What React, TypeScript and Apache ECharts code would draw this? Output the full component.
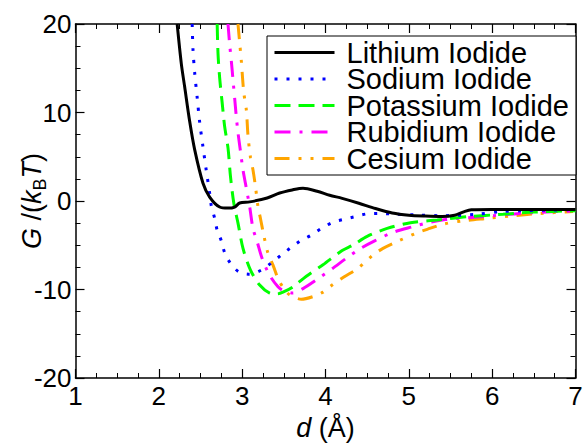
import React, { useEffect, useRef } from "react";
import * as echarts from "echarts";

const FONT = "'Liberation Sans', Arial, Helvetica, sans-serif";

const seriesNames = ["Lithium Iodide", "Sodium Iodide", "Potassium Iodide", "Rubidium Iodide", "Cesium Iodide"];
const seriesColors = ["#000000", "#0000ff", "#00ff00", "#ff00ff", "#ffa500"];

const liD = [2.22, 2.27, 2.31, 2.37, 2.43, 2.53, 2.61, 2.73, 2.83, 2.91, 2.97, 3.09, 3.3, 3.45, 3.6, 3.73, 3.9, 4.05, 4.2, 4.4, 4.6, 4.8, 5.0, 5.2, 5.4, 5.55, 5.65, 5.75, 6.0, 6.5, 7.0];
const liG = [20, 15.5, 12.9, 9.0, 5.8, 2.0, 0.45, -0.68, -0.8, -0.68, -0.23, -0.1, 0.34, 0.9, 1.25, 1.45, 1.1, 0.65, 0.3, -0.25, -0.85, -1.35, -1.6, -1.7, -1.75, -1.6, -1.25, -0.98, -0.95, -0.95, -0.95];

const naD = [2.4, 2.41, 2.43, 2.46, 2.49, 2.53, 2.57, 2.61, 2.63, 2.67, 2.7, 2.75, 2.79, 2.86, 2.96, 3.09, 3.23, 3.35, 3.47, 3.58, 3.7, 3.83, 3.95, 4.09, 4.22, 4.35, 4.5, 4.65, 4.8, 5.09, 5.37, 5.82, 6.1, 6.38, 6.82, 7.0];
const naG = [20, 17.1, 14.5, 11.7, 8.9, 6.1, 3.4, 0.87, -0.57, -1.96, -3.3, -4.5, -5.85, -7.05, -8.0, -8.27, -7.8, -7.0, -6.1, -5.3, -4.5, -3.85, -3.1, -2.4, -2.07, -1.78, -1.45, -1.4, -1.47, -1.58, -1.66, -1.5, -1.2, -1.1, -1.0, -0.95];

const kD = [2.7, 2.71, 2.73, 2.76, 2.79, 2.83, 2.86, 2.9, 2.95, 3.01, 3.1, 3.21, 3.33, 3.42, 3.49, 3.61, 3.77, 3.97, 4.2, 4.33, 4.5, 4.74, 5.02, 5.34, 5.7, 6.13, 6.5, 7.0];
const kG = [20, 16.7, 13.9, 11.1, 8.4, 6.0, 2.75, -0.26, -2.5, -5.36, -7.8, -9.5, -10.4, -10.5, -10.3, -9.7, -8.5, -7.2, -5.6, -4.98, -4.0, -3.1, -2.45, -2.15, -1.78, -1.5, -1.25, -1.1];

const rbD = [2.83, 2.85, 2.87, 2.89, 2.91, 2.93, 2.95, 2.98, 3.01, 3.05, 3.09, 3.13, 3.18, 3.24, 3.33, 3.43, 3.49, 3.61, 3.73, 3.9, 4.08, 4.26, 4.42, 4.59, 4.81, 5.05, 5.24, 5.44, 5.86, 6.33, 6.77, 7.0];
const rbG = [20, 17.7, 15.8, 13.7, 11.6, 9.5, 7.7, 5.6, 3.5, 1.44, -0.64, -3.1, -4.6, -6.5, -8.4, -9.7, -10.1, -10.4, -9.9, -8.85, -7.65, -6.4, -5.36, -4.5, -3.55, -2.9, -2.43, -2.1, -1.78, -1.4, -1.2, -1.1];

const csD = [2.95, 2.97, 2.99, 3.0, 3.02, 3.05, 3.07, 3.1, 3.13, 3.16, 3.19, 3.22, 3.26, 3.31, 3.37, 3.43, 3.5, 3.57, 3.71, 3.85, 3.97, 4.08, 4.22, 4.39, 4.57, 4.69, 4.88, 5.09, 5.22, 5.42, 5.66, 5.94, 6.26, 6.58, 6.97];
const csG = [20, 17.9, 15.8, 14.5, 12.2, 10.3, 7.4, 4.9, 3.5, 1.6, -0.64, -2.0, -3.9, -5.9, -7.25, -8.75, -9.9, -10.6, -11.1, -10.8, -10.3, -9.5, -8.6, -7.6, -6.1, -5.36, -4.5, -3.63, -3.2, -2.6, -2.23, -1.96, -1.66, -1.4, -1.2];

const xTicks = { min: 1, max: 7, interval: 1 };
const yTicks = { min: -20, max: 20, interval: 10 };

const seriesD = [liD, naD, kD, rbD, csD];
const seriesG = [liG, naG, kG, rbG, csG];
const dashes: any[] = ["solid", [3, 9], [16, 8], [16, 9, 3, 9], [15, 9, 3, 9, 3, 9]];

export default function App() {
  const ref = useRef<HTMLDivElement>(null);
  useEffect(() => {
    if (!ref.current) return;
    const chart = echarts.init(ref.current, null, { renderer: "svg" });
    const tickCommon = (showLabel: boolean) => ({
      axisLine: { show: true, onZero: false, lineStyle: { color: "#000", width: 1.5 } },
      axisTick: { show: true, inside: true, length: 9, lineStyle: { color: "#000", width: 1.2 } },
      minorTick: { show: true, splitNumber: 4, length: 5, lineStyle: { color: "#000", width: 1 } },
      splitLine: { show: false },
      minorSplitLine: { show: false },
      axisLabel: showLabel
        ? { show: true, fontSize: 26, fontFamily: FONT, color: "#000" }
        : { show: false },
    });
    const option: any = {
      animation: false,
      backgroundColor: "#fff",
      grid: { left: 75.5, right: 11.5, top: 24, bottom: 67, containLabel: false, outerBoundsMode: "none" },
      legend: {
        show: true,
        orient: "vertical",
        left: 267,
        top: 36,
        padding: [2, 7, 2, 6],
        itemGap: -2.5,
        itemWidth: 60,
        itemHeight: 26,
        backgroundColor: "#fff",
        borderColor: "#000",
        borderWidth: 1,
        data: seriesNames,
        textStyle: { fontSize: 29, fontFamily: FONT, color: "#000", padding: [0, 0, 0, 7] },
        lineStyle: { width: 3 },
        itemStyle: { opacity: 0, borderWidth: 0 },
      },
      xAxis: [
        {
          type: "value",
          position: "bottom",
          ...xTicks,
          ...tickCommon(true),
          axisLabel: { show: true, fontSize: 26, fontFamily: FONT, color: "#000", margin: 5 },
          name: "{i|d} (Å)",
          nameLocation: "middle",
          nameGap: 36,
          nameMoveOverlap: false,
          nameTextStyle: {
            fontSize: 27,
            fontFamily: FONT,
            color: "#000",
            rich: { i: { fontSize: 27, fontFamily: FONT, fontStyle: "italic", color: "#000" } },
          },
        },
        { type: "value", position: "top", ...xTicks, ...tickCommon(false) },
      ],
      yAxis: [
        {
          type: "value",
          position: "left",
          ...yTicks,
          ...tickCommon(true),
          axisLabel: { show: true, fontSize: 26, fontFamily: FONT, color: "#000", margin: 4 },
          name: "{i|G} /({i|k}{sub|B}{i|T})",
          nameLocation: "middle",
          nameRotate: 90,
          nameGap: 27,
          nameMoveOverlap: false,
          nameTextStyle: {
            fontSize: 27,
            fontFamily: FONT,
            color: "#000",
            rich: {
              i: { fontSize: 27, fontFamily: FONT, fontStyle: "italic", color: "#000" },
              sub: { fontSize: 18, fontFamily: FONT, color: "#000", padding: [16, 0, 0, 0] },
            },
          },
        },
        { type: "value", position: "right", ...yTicks, ...tickCommon(false) },
      ],
      series: seriesNames.map((name, i) => ({
        name,
        type: "line",
        xAxisIndex: 0,
        yAxisIndex: 0,
        symbol: "none",
        showSymbol: false,
        smooth: 0.3,
        clip: true,
        data: seriesD[i].map((d, j) => [d, seriesG[i][j]]),
        lineStyle: { color: seriesColors[i], width: 3, type: dashes[i], cap: "butt" },
        itemStyle: { color: seriesColors[i] },
        z: 10 - i,
      })),
    };
    chart.setOption(option);
    return () => chart.dispose();
  }, []);
  return <div ref={ref} style={{ width: 587, height: 445, position: "absolute", left: 0, top: 0 }} />;
}
